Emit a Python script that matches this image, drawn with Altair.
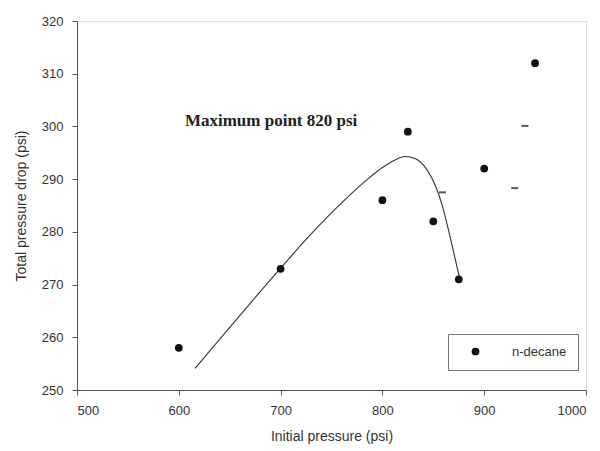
import altair as alt
import pandas as pd

# Measured points (n-decane)
pt_x = [600, 700, 800, 825, 850, 875, 900, 950]
pt_y = [258, 273, 286, 299, 282, 271, 292, 312]

# Fitted curve
fit_x = [616, 640, 670, 700, 730, 760, 785, 800, 812, 822, 832, 843, 852, 858, 863, 868, 873, 877]
fit_y = [254.1, 259.6, 266.4, 273.1, 279.6, 285.5, 289.9, 292.2, 293.6, 294.3, 293.9, 292.0, 288.8, 285.5, 281.9, 277.8, 273.6, 270.3]

# Small stray dashes visible in the plot
dash_x = [859, 930, 940]
dash_y = [287.5, 288.3, 300.1]

note_x = [606]
note_y = [301]
note_text = ["Maximum point 820 psi"]

pts = pd.DataFrame({"x": pt_x, "y": pt_y, "series": ["n-decane"] * len(pt_x)})
fit = pd.DataFrame({"x": fit_x, "y": fit_y})
dashes = pd.DataFrame({"x": dash_x, "y": dash_y})
note = pd.DataFrame({"x": note_x, "y": note_y, "t": note_text})

xscale = alt.Scale(domain=[500, 1000], nice=False, zero=False)
yscale = alt.Scale(domain=[250, 320], nice=False, zero=False)

axis_common = dict(
    grid=False,
    format="d",
    domainColor="#555",
    tickColor="#555",
    tickSize=5,
    labelFont="Liberation Sans",
    labelFontSize=13,
    labelColor="#333",
    titleFont="Liberation Sans",
    titleFontSize=14,
    titleFontWeight="normal",
    titleColor="#333",
)

X = alt.X("x:Q", scale=xscale,
          axis=alt.Axis(title="Initial pressure (psi)", values=[500, 600, 700, 800, 900, 1000],
                        labelPadding=9, titlePadding=12, **axis_common))
Y = alt.Y("y:Q", scale=yscale,
          axis=alt.Axis(title="Total pressure drop (psi)", values=[250, 260, 270, 280, 290, 300, 310, 320],
                        labelPadding=9, titlePadding=13, **axis_common))

line = alt.Chart(fit).mark_line(color="#333", strokeWidth=1.1, interpolate="monotone").encode(
    x=alt.X("x:Q", scale=xscale), y=alt.Y("y:Q", scale=yscale)
)

points = alt.Chart(pts).mark_point(filled=True, shape="circle", size=60, opacity=1).encode(
    x=X, y=Y,
    color=alt.Color("series:N", scale=alt.Scale(range=["#111"]),
                    legend=alt.Legend(title=None, orient="none", legendX=371, legendY=313,
                                      strokeColor="#777", padding=11, symbolOffset=10,
                                      labelOffset=30, labelFont="Liberation Sans",
                                      labelFontSize=13, labelColor="#333",
                                      symbolSize=60, symbolType="circle",
                                      symbolStrokeWidth=0)),
)

ticks = alt.Chart(dashes).mark_tick(orient="horizontal", size=7, thickness=2, color="#111").encode(
    x=alt.X("x:Q", scale=xscale), y=alt.Y("y:Q", scale=yscale)
)

text = alt.Chart(note).mark_text(align="left", baseline="middle", font="Liberation Serif",
                                 fontSize=17, fontWeight="bold", color="#222").encode(
    x=alt.X("x:Q", scale=xscale), y=alt.Y("y:Q", scale=yscale), text="t:N"
)

chart = alt.layer(line, points, ticks, text).properties(
    width=509, height=369,
    autosize=alt.AutoSizeParams(type="none"),
    padding={"left": 77, "top": 21, "right": 14, "bottom": 61},
).configure_view(stroke="#555", strokeWidth=1).configure(background="white")

chart.save("out.html", embed_options={"renderer": "svg", "actions": False})
